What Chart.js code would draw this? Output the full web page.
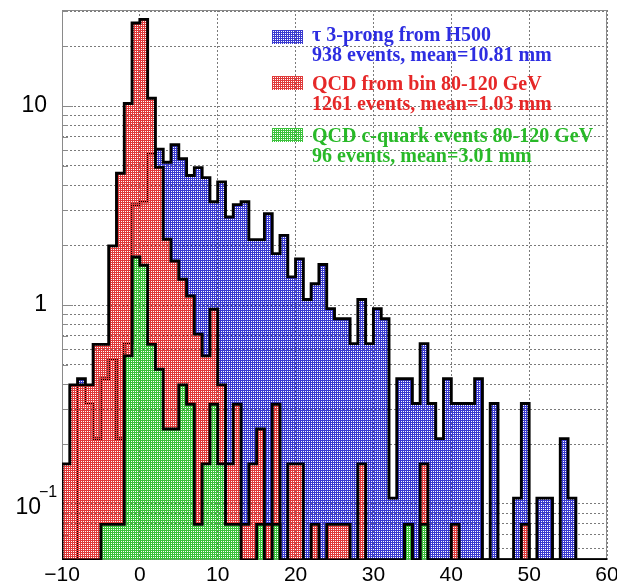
<!DOCTYPE html>
<html>
<head>
<meta charset="utf-8">
<script src="https://cdn.jsdelivr.net/npm/chart.js@4.4.1/dist/chart.umd.min.js"></script>
<style>
  html, body { margin: 0; padding: 0; background: #fff; }
</style>
</head>
<body>
<canvas id="c" width="617" height="586"></canvas>
<script>
// 1 mm bins, lower edges -10 ... 59
const binStart = -10;
const binWidth = 1;

// tau 3-prong from H500 (normalised)
const tauH500 = [
  0, 0, 0.426, 0.320, 0.213, 0.426, 0.533, 0.213, 0.640, 3.198,
  3.305, 5.756, 6.076, 5.223, 6.396, 5.437, 4.477, 4.904, 4.371, 3.305,
  4.157, 2.772, 3.198, 3.305, 2.132, 2.132, 2.878, 1.812, 2.239, 1.386,
  1.706, 1.066, 1.279, 1.599, 0.959, 0.853, 0.853, 0.640, 1.066, 0.640,
  0.959, 0.853, 0.107, 0.426, 0.426, 0.320, 0.640, 0.320, 0.213, 0.426,
  0.320, 0.320, 0.320, 0.426, 0, 0.320, 0, 0, 0.107, 0.320,
  0, 0.107, 0.107, 0, 0.213, 0.107, 0, 0, 0, 0
];

// QCD, bin 80-120 GeV
const qcdAll = [
  0.159, 0.397, 0.397, 0.397, 0.634, 0.634, 1.983, 4.599, 10.31, 26.17,
  27.28, 10.94, 4.917, 2.141, 1.665, 1.348, 1.110, 0.714, 0.555, 0.952,
  0.397, 0.159, 0.317, 0.079, 0.159, 0.238, 0.079, 0.317, 0, 0.159,
  0.159, 0, 0.079, 0, 0.079, 0.079, 0.079, 0, 0.159, 0,
  0, 0, 0, 0, 0.079, 0, 0.159, 0, 0, 0,
  0.079, 0, 0, 0, 0, 0, 0, 0, 0, 0.079,
  0, 0, 0, 0, 0, 0, 0, 0, 0, 0
];

// QCD c-quark events, 80-120 GeV
const qcdCharm = [
  0, 0, 0, 0, 0, 0.079, 0.079, 0.079, 0.555, 1.745,
  1.586, 0.634, 0.476, 0.238, 0.238, 0.397, 0.317, 0.079, 0.159, 0.317,
  0.159, 0.079, 0.079, 0, 0, 0.079, 0, 0.079, 0, 0,
  0, 0, 0, 0, 0, 0, 0, 0, 0, 0,
  0, 0, 0, 0, 0.079, 0, 0.079, 0, 0, 0,
  0, 0, 0, 0, 0, 0, 0, 0, 0, 0,
  0, 0, 0, 0, 0, 0, 0, 0, 0, 0
];

const legendTitles = ['\u03c4 3-prong from H500', 'QCD from bin 80-120 GeV', 'QCD c-quark events 80-120 GeV'];
const legendNotes = ['938 events, mean=10.81 mm', '1261 events, mean=1.03 mm', '96 events, mean=3.01 mm'];

const xTicks = [-10, 0, 10, 20, 30, 40, 50, 60];
const yMin = 0.0523;
const yMax = 30.4;
const yGrid = [0.06, 0.07, 0.08, 0.09, 0.1, 0.2, 0.3, 0.4, 0.5, 0.6, 0.7, 0.8, 0.9,
               1, 2, 3, 4, 5, 6, 7, 8, 9, 10, 20, 30];
const yDecades = [0.1, 1, 10];
const yDecadeLabels = ['10', '1', '10'];
const yDecadeExps = ['\u22121', '', ''];

const fillRGB = ['58,58,208', '224,58,58', '58,194,58'];
const textRGB = ['45,45,225', '230,40,40', '40,185,40'];

// ROOT-like dotted fill: 3 of 4 pixels coloured, the 4th left open
const dotted = rgb => {
    const c = document.createElement('canvas');
    c.width = 2; c.height = 2;
    const g = c.getContext('2d');
    g.fillStyle = 'rgb(' + rgb + ')';
    g.fillRect(0, 0, 2, 2);
    g.clearRect(1, 1, 1, 1);
    return g.createPattern(c, 'repeat');
};
const patterns = fillRGB.map(dotted);

// empty bins sit on the bottom of the log axis
const histPoints = vals => [
    { x: binStart, y: yMin },
    ...vals.map((v, i) => ({ x: binStart + i * binWidth, y: v > 0 ? v : yMin })),
    { x: binStart + vals.length * binWidth, y: yMin }
];

const hist = (label, vals, k, order) => ({
    label,
    data: histPoints(vals),
    stepped: true,
    fill: 'start',
    backgroundColor: patterns[k],
    borderColor: '#000',
    borderWidth: 2.9,
    borderJoinStyle: 'miter',
    pointRadius: 0,
    order
});

const tickFont = { family: '"Liberation Sans", Arial, sans-serif', size: 23 };

const rootFrame = {
    id: 'rootFrame',
    beforeDatasetsDraw(chart) {
        const { ctx, chartArea: a, scales: { y } } = chart;
        ctx.save();
        ctx.strokeStyle = '#8a8a8a';
        ctx.lineWidth = 1;
        yGrid.forEach(v => {
            const py = Math.round(y.getPixelForValue(v)) + 0.5;
            const len = yDecades.includes(v) ? 11 : 6;
            ctx.beginPath();
            ctx.moveTo(a.left, py);
            ctx.lineTo(a.left + len, py);
            ctx.stroke();
        });
        ctx.strokeRect(a.left + 0.5, a.top + 0.5, a.right - a.left - 1, a.bottom - a.top - 1);
        ctx.restore();
    },
    afterDatasetsDraw(chart) {
        const { ctx, scales: { y } } = chart;
        ctx.save();
        // exponent labels
        yDecades.forEach((v, i) => {
            if (!yDecadeExps[i]) return;
            const py = y.getPixelForValue(v);
            ctx.fillStyle = '#000';
            ctx.textAlign = 'right';
            ctx.textBaseline = 'alphabetic';
            ctx.font = '23px "Liberation Sans", Arial, sans-serif';
            ctx.fillText(yDecadeLabels[i], 41, py + 10);
            ctx.textAlign = 'left';
            ctx.font = '16px "Liberation Sans", Arial, sans-serif';
            ctx.fillText(yDecadeExps[i], 39, py - 7);
        });
        // legend
        const boxTop = [30, 76, 128];
        const base1 = [41, 90, 142];
        const base2 = [61, 110, 162];
        ctx.font = 'bold 20px "Liberation Serif", "Times New Roman", serif';
        ctx.textAlign = 'left';
        ctx.textBaseline = 'alphabetic';
        legendTitles.forEach((t, i) => {
            ctx.fillStyle = patterns[i];
            ctx.fillRect(272, boxTop[i], 31, 14);
            ctx.fillStyle = 'rgb(' + textRGB[i] + ')';
            ctx.fillText(t, 312, base1[i]);
            ctx.fillText(legendNotes[i], 312, base2[i]);
        });
        ctx.restore();
    }
};

new Chart(document.getElementById('c'), {
    type: 'line',
    data: {
        datasets: [
            hist(legendTitles[0], tauH500, 0, 3),
            hist(legendTitles[1], qcdAll, 1, 2),
            hist(legendTitles[2], qcdCharm, 2, 1)
        ]
    },
    options: {
        responsive: false,
        animation: false,
        layout: { padding: { top: 10, right: 10, left: 0, bottom: 0 } },
        plugins: {
            legend: { display: false },
            tooltip: { enabled: false }
        },
        scales: {
            x: {
                type: 'linear',
                min: -10,
                max: 60,
                afterBuildTicks: s => { s.ticks = xTicks.map(v => ({ value: v })); },
                afterFit: s => { s.height = 26; s.paddingLeft = 0; s.paddingRight = 0; },
                ticks: {
                    autoSkip: false,
                    maxRotation: 0,
                    padding: 3,
                    color: '#000',
                    font: { family: tickFont.family, size: 21 },
                    callback: v => v < 0 ? '\u2212' + Math.abs(v) : String(v)
                },
                grid: { color: '#7a7a7a', lineWidth: 1, drawTicks: false },
                border: { display: false, dash: [2, 2] }
            },
            y: {
                type: 'logarithmic',
                min: yMin,
                max: yMax,
                afterBuildTicks: s => { s.ticks = yGrid.map(v => ({ value: v })); },
                afterFit: s => { s.width = 62; s.paddingTop = 0; s.paddingBottom = 0; },
                ticks: {
                    autoSkip: false,
                    padding: 15,
                    color: '#000',
                    font: tickFont,
                    callback: v => {
                        const i = yDecades.indexOf(v);
                        return i >= 0 && !yDecadeExps[i] ? yDecadeLabels[i] : '';
                    }
                },
                grid: { color: '#7a7a7a', lineWidth: 1, drawTicks: false },
                border: { display: false, dash: [2, 2] }
            }
        }
    },
    plugins: [rootFrame]
});
</script>
</body>
</html>
